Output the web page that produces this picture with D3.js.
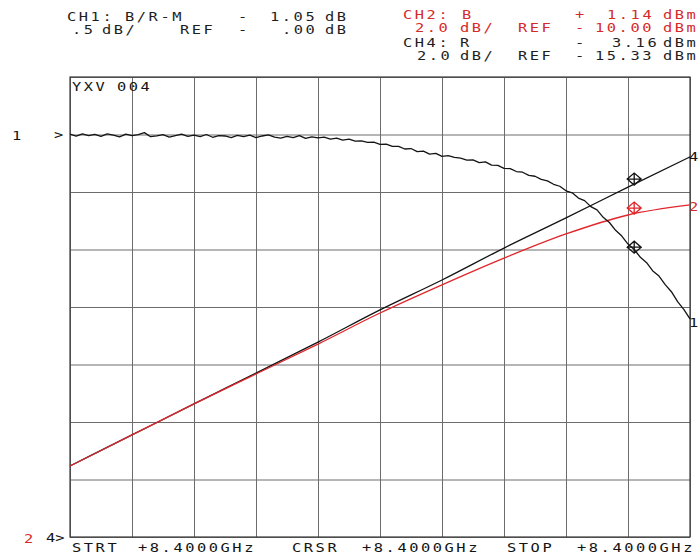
<!DOCTYPE html>
<html>
<head>
<meta charset="utf-8">
<script src="https://cdn.jsdelivr.net/npm/d3@7"></script>
<style>
  html, body { margin: 0; padding: 0; background: #fff; }
  svg { display: block; }
  text { font-family: "DejaVu Sans Mono", "Liberation Mono", monospace; font-size: 12px; letter-spacing: 2px; }
</style>
</head>
<body>
<svg id="chart" width="698" height="556"></svg>
<script>
// ---------------- DATA ----------------
// horizontal position in graticule divisions (0..10)
const divisions = [0, 1, 2, 3, 4, 5, 6, 7, 8, 9, 10];

// CH1 B/R-M (dB), sampled every 0.1 division
const ch1Values = [
  0.004, -0.014, 0.006, -0.009, 0.002, -0.017, 0.005, -0.006, -0.020, 0.003,
  -0.009, -0.001, 0.016, -0.019, -0.012, -0.002, -0.022, -0.010, 0.003, -0.016,
  -0.006, -0.018, 0.000, -0.024, -0.010, -0.013, -0.027, -0.008, -0.019, -0.005,
  -0.027, -0.013, -0.003, -0.022, -0.032, -0.016, -0.028, -0.010, -0.034, -0.020,
  -0.030, -0.022, -0.040, -0.031, -0.048, -0.040, -0.058, -0.055, -0.069, -0.066,
  -0.085, -0.083, -0.104, -0.103, -0.126, -0.122, -0.149, -0.145, -0.170, -0.164,
  -0.190, -0.184, -0.199, -0.206, -0.222, -0.220, -0.244, -0.238, -0.266, -0.268,
  -0.294, -0.296, -0.322, -0.328, -0.355, -0.363, -0.390, -0.403, -0.433, -0.450,
  -0.490, -0.507, -0.553, -0.575, -0.627, -0.655, -0.720, -0.765, -0.833, -0.883,
  -0.953, -1.000, -1.068, -1.115, -1.186, -1.231, -1.306, -1.367, -1.454, -1.520,
  -1.604
];

// CH2 B (dBm) at each division
const ch2Values = [-7.53, -6.45, -5.37, -4.33, -3.29, -2.21, -1.23, -0.30, 0.54, 1.20, 1.55];
// CH4 R (dBm) at each division
const ch4Values = [-12.86, -11.78, -10.70, -9.63, -8.55, -7.43, -6.39, -5.28, -4.23, -3.16, -2.11];

const markerDivision = 9.1;
const markerValues = { ch1: -0.98, ch2: 1.44, ch4: -2.88 };

// channel scale settings
const ch1Scale = { perDiv: 0.5, ref: 0.00, refDiv: 7 };
const ch2Scale = { perDiv: 2.0, ref: -10.00, refDiv: 0 };
const ch4Scale = { perDiv: 2.0, ref: -15.33, refDiv: 0 };

// readout texts
const readoutCh1 = [["CH1:", "B/R-M", "-", "1.05", "dB"], [".5", "dB/", "REF", "-", ".00", "dB"]];
const readoutCh2 = [["CH2:", "B", "+", "1.14", "dBm"], ["2.0", "dB/", "REF", "-", "10.00", "dBm"]];
const readoutCh4 = [["CH4:", "R", "-", "3.16", "dBm"], ["2.0", "dB/", "REF", "-", "15.33", "dBm"]];
const footerLabels = ["STRT", "+8.4000GHz", "CRSR", "+8.4000GHz", "STOP", "+8.4000GHz"];
const titleLabel = ["YXV", "004"];

// ---------------- DRAWING ----------------
const svg = d3.select("#chart");
const L = 70, R = 690, T = 77, B = 537;
const nDivY = 8;
const BLACK = "#141414", RED = "#e0262b", GRID = "#6c6c6c";

const x = d3.scaleLinear().domain([0, 10]).range([L, R]);
function yFor(s) {
  const lo = s.ref - s.refDiv * s.perDiv;
  return d3.scaleLinear().domain([lo, lo + nDivY * s.perDiv]).range([B, T]);
}
const y1 = yFor(ch1Scale), y2 = yFor(ch2Scale), y4 = yFor(ch4Scale);

// graticule via axes
const gridX = d3.axisBottom(x).tickValues(divisions).tickSize(-(B - T)).tickFormat("");
const gridY = d3.axisLeft(y1).tickValues(d3.range(0, nDivY + 1).map(i => y1.domain()[0] + i * ch1Scale.perDiv))
  .tickSize(-(R - L)).tickFormat("");
const gx = svg.append("g").attr("transform", `translate(0,${B})`).call(gridX);
const gy = svg.append("g").attr("transform", `translate(${L},0)`).call(gridY);
[gx, gy].forEach(g => {
  g.select(".domain").remove();
  g.selectAll("line").attr("stroke", GRID).attr("stroke-width", 1);
});
svg.append("rect").attr("x", L).attr("y", T).attr("width", R - L).attr("height", B - T)
  .attr("fill", "none").attr("stroke", "#3a3a3a").attr("stroke-width", 1.2);

// traces
const ch1Line = d3.line().x((d, i) => x(i / 10)).y(d => y1(d));
const ch2Line = d3.line().x((d, i) => x(divisions[i])).y(d => y2(d)).curve(d3.curveMonotoneX);
const ch4Line = d3.line().x((d, i) => x(divisions[i])).y(d => y4(d)).curve(d3.curveMonotoneX);

svg.append("path").datum(ch4Values).attr("d", ch4Line).attr("fill", "none").attr("stroke", BLACK).attr("stroke-width", 1.3);
svg.append("path").datum(ch2Values).attr("d", ch2Line).attr("fill", "none").attr("stroke", RED).attr("stroke-width", 1.3);
svg.append("path").datum(ch1Values).attr("d", ch1Line).attr("fill", "none").attr("stroke", BLACK).attr("stroke-width", 1.3).attr("stroke-linejoin", "round");

// markers
function diamond(cx, cy) {
  const w = 7, h = 6;
  return `M${cx - w},${cy}L${cx},${cy - h}L${cx + w},${cy}L${cx},${cy + h}Z M${cx - w},${cy}H${cx + w} M${cx},${cy - h}V${cy + h}`;
}
const mx = x(markerDivision);
[[y4(markerValues.ch4), BLACK], [y2(markerValues.ch2), RED], [y1(markerValues.ch1), BLACK]].forEach(([cy, c]) => {
  svg.append("path").attr("d", diamond(mx, cy)).attr("fill", "none").attr("stroke", c).attr("stroke-width", 1.3);
});

// text helper: plotter-like wide lettering
function txt(s, tx, ty, color, single) {
  const t = svg.append("text").attr("transform", `translate(${tx},${ty}) scale(1.28,1)`)
    .attr("fill", color || BLACK).text(s);
  if (single) t.style("letter-spacing", "0px");
  return t;
}

// readouts
const c1 = [[67, 125, 238, 270, 325], [72, 102, 180, 238, 282, 325]];
readoutCh1.forEach((row, r) => row.forEach((s, k) => txt(s, c1[r][k], r ? 34 : 21, "#1e1e1e")));
const c2 = [[403, 462, 575, 607, 663], [415, 460, 518, 575, 595, 663]];
readoutCh2.forEach((row, r) => row.forEach((s, k) => txt(s, c2[r][k], r ? 32 : 19, "#d42a2a")));
const c4 = [[403, 460, 575, 612, 663], [417, 460, 518, 575, 595, 663]];
readoutCh4.forEach((row, r) => row.forEach((s, k) => txt(s, c4[r][k], r ? 60 : 47, "#1e1e1e")));

// title inside graticule
txt(titleLabel[0], 72, 91); txt(titleLabel[1], 117, 91);

// footer
const fx = [72, 138, 292, 362, 507, 577];
footerLabels.forEach((s, k) => txt(s, fx[k], 552));

// reference position indicators
txt("1", 12, 140, BLACK, true);
txt(">", 54, y1(ch1Scale.ref) + 4, BLACK, true);
txt("2", 24, 543, "#d42a2a", true);
txt("4>", 46, y2(ch2Scale.ref) + 5, BLACK, true);

// trace end labels
txt("4", 689, y4(ch4Values[10]) + 4, BLACK, true);
txt("2", 689, y2(ch2Values[10]) + 6, "#d42a2a", true);
txt("1", 689, y1(ch1Values[100]) + 8, BLACK, true);
</script>
</body>
</html>
